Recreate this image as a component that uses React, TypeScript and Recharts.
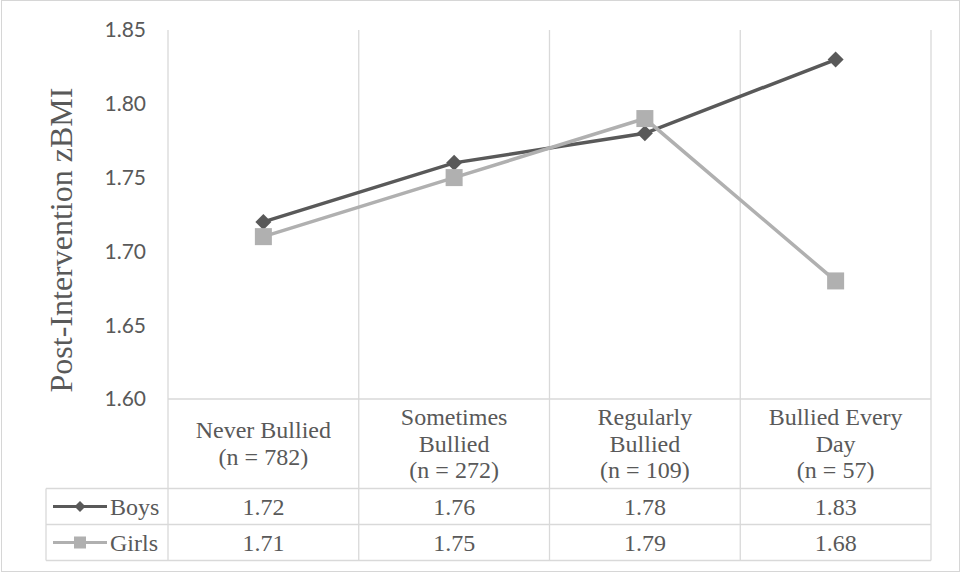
import React from 'react';
import { LineChart, Line, XAxis, YAxis, CartesianGrid } from 'recharts';

// Bullying frequency groups (label lines separated by \n)
const categories = [
  'Never Bullied\n(n = 782)',
  'Sometimes\nBullied\n(n = 272)',
  'Regularly\nBullied\n(n = 109)',
  'Bullied Every\nDay\n(n = 57)',
];
const boys = [1.72, 1.76, 1.78, 1.83];
const girls = [1.71, 1.75, 1.79, 1.68];
const yTicks = [1.6, 1.65, 1.7, 1.75, 1.8, 1.85];
const seriesNames = ['Boys', 'Girls'];

const data = categories.map((category, i) => ({ category, boys: boys[i], girls: girls[i] }));

// Layout
const W = 961;
const H = 573;
const PLOT_LEFT = 168;
const PLOT_RIGHT = 931;
const PLOT_TOP = 30;
const PLOT_BOTTOM = 399;
const Y_AXIS_W = 60;
const X_AXIS_H = 160;
const TABLE_LEFT = 46;
const ROW1_TOP = 488.5;
const ROW2_TOP = 524.5;
const TABLE_BOTTOM = 560.5;

const TEXT = '#595959';
const RULE = '#d9d9d9';
const BOYS_COLOR = '#595959';
const GIRLS_COLOR = '#b0b0b0';
const SERIF = '"Liberation Serif", "Times New Roman", serif';
const SANS = 'Lato, Carlito, Calibri, "Open Sans", sans-serif';

const diamond = (cx: number, cy: number, r: number) =>
  `M${cx},${cy - r}L${cx + r},${cy}L${cx},${cy + r}L${cx - r},${cy}Z`;

const BoysDot = (props: any) => {
  const { cx, cy, index } = props;
  if (cx == null || cy == null) return <g key={`b${index}`} />;
  return <path key={`b${index}`} d={diamond(cx, cy, 8)} fill={BOYS_COLOR} />;
};

const GirlsDot = (props: any) => {
  const { cx, cy, index } = props;
  if (cx == null || cy == null) return <g key={`g${index}`} />;
  return <rect key={`g${index}`} x={cx - 8.5} y={cy - 8.5} width={17} height={17} fill={GIRLS_COLOR} />;
};

// Category label + data-table cells for one category column
const TableTick = (props: any) => {
  const { x, y, index, payload } = props;
  const band = (PLOT_RIGHT - PLOT_LEFT) / categories.length;
  const lines = String(payload.value).split('\n');
  const lh = 26.7;
  const mid = y + 52.7;
  const rowVals = [boys[index], girls[index]];
  const rowTops = [ROW1_TOP, ROW2_TOP];
  const left = x - band / 2;
  const right = x + band / 2;
  const isLast = index === categories.length - 1;
  return (
    <g>
      <line x1={left} x2={left} y1={y} y2={TABLE_BOTTOM} stroke={RULE} strokeWidth={1.3} />
      {isLast && <line x1={right} x2={right} y1={y} y2={TABLE_BOTTOM} stroke={RULE} strokeWidth={1.3} />}
      <text textAnchor="middle" fill={TEXT} fontFamily={SERIF} fontSize={24}>
        {lines.map((ln, j) => (
          <tspan key={j} x={x} y={mid + (j - (lines.length - 1) / 2) * lh}>
            {ln}
          </tspan>
        ))}
      </text>
      {rowVals.map((v, r) => (
        <text
          key={r}
          x={x}
          y={rowTops[r] + 26}
          textAnchor="middle"
          fill={TEXT}
          fontFamily={SERIF}
          fontSize={24}
        >
          {v.toFixed(2)}
        </text>
      ))}
      {index === 0 && (
        <g>
          {[ROW1_TOP, ROW2_TOP, TABLE_BOTTOM].map((ry, k) => (
            <line key={k} x1={TABLE_LEFT} x2={PLOT_RIGHT} y1={ry} y2={ry} stroke={RULE} strokeWidth={1.3} />
          ))}
          <line x1={TABLE_LEFT} x2={TABLE_LEFT} y1={ROW1_TOP} y2={TABLE_BOTTOM} stroke={RULE} strokeWidth={1.3} />
          {seriesNames.map((name, r) => {
            const cy = (rowTops[r] + (r === 0 ? ROW2_TOP : TABLE_BOTTOM)) / 2;
            const color = r === 0 ? BOYS_COLOR : GIRLS_COLOR;
            return (
              <g key={name}>
                <line x1={53} x2={107} y1={cy} y2={cy} stroke={color} strokeWidth={3} />
                {r === 0 ? (
                  <path d={diamond(80, cy, 5.5)} fill={color} />
                ) : (
                  <rect x={74} y={cy - 6} width={12} height={12} fill={color} />
                )}
                <text x={110} y={rowTops[r] + 26} fill={TEXT} fontFamily={SERIF} fontSize={24}>
                  {name}
                </text>
              </g>
            );
          })}
        </g>
      )}
    </g>
  );
};

const gridX = ({ offset }: any) => {
  const l = offset?.left ?? PLOT_LEFT;
  const w = offset?.width ?? PLOT_RIGHT - PLOT_LEFT;
  return categories.map((_, i) => l + (i * w) / categories.length).concat([l + w]);
};

export default function App() {
  return (
    <div style={{ position: 'absolute', left: 0, top: 0, width: W, height: H, background: '#fff' }}>
      <div
        style={{
          position: 'absolute',
          left: 1,
          top: 0,
          width: 959,
          height: 572,
          border: '1px solid #d6d6d6',
          boxSizing: 'border-box',
        }}
      />
      <div style={{ position: 'absolute', left: 0, top: 0 }}>
        <LineChart
          width={W}
          height={H}
          data={data}
          margin={{
            top: PLOT_TOP,
            right: W - PLOT_RIGHT,
            bottom: H - PLOT_BOTTOM - X_AXIS_H,
            left: PLOT_LEFT - Y_AXIS_W,
          }}
        >
          <CartesianGrid horizontal={false} stroke={RULE} strokeWidth={1.3} verticalCoordinatesGenerator={gridX} />
          <XAxis
            dataKey="category"
            scale="band"
            height={X_AXIS_H}
            axisLine={{ stroke: RULE, strokeWidth: 1.3 }}
            tickLine={false}
            tickSize={0}
            tickMargin={0}
            interval={0}
            tick={<TableTick />}
          />
          <YAxis
            width={Y_AXIS_W}
            domain={[1.6, 1.85]}
            ticks={yTicks}
            axisLine={false}
            tickLine={false}
            tickSize={6}
            tickMargin={16}
            tickFormatter={(v: number) => v.toFixed(2)}
            tick={{ fill: TEXT, fontSize: 21, fontFamily: SANS }}
            label={{
              content: () => (
                <text
                  x={72}
                  y={240}
                  transform="rotate(-90 72 240)"
                  textAnchor="middle"
                  fill={TEXT}
                  fontFamily={SERIF}
                  fontSize={32}
                >
                  Post-Intervention zBMI
                </text>
              ),
            }}
          />
          <Line
            dataKey="boys"
            stroke={BOYS_COLOR}
            strokeWidth={3.5}
            dot={BoysDot}
            activeDot={false}
            isAnimationActive={false}
          />
          <Line
            dataKey="girls"
            stroke={GIRLS_COLOR}
            strokeWidth={3.5}
            dot={GirlsDot}
            activeDot={false}
            isAnimationActive={false}
          />
        </LineChart>
      </div>
    </div>
  );
}
